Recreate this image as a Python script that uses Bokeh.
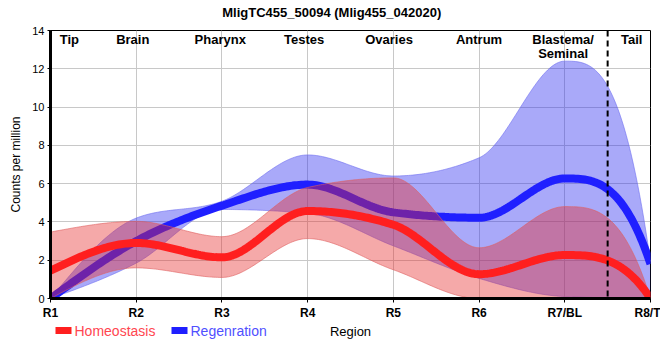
import numpy as np
from bokeh.plotting import figure
from bokeh.layouts import column
from bokeh.models import Range1d, FixedTicker, Label, Span, LinearAxis
from bokeh.embed import file_html
from bokeh.resources import INLINE

# ---------------- data ----------------
regions = ["R1", "R2", "R3", "R4", "R5", "R6", "R7/BL", "R8/T"]
region_pos = [1, 2, 3, 4, 5, 6, 7, 8]
tissues = ["Tip", "Brain", "Pharynx", "Testes", "Ovaries", "Antrum", "Blastema/", "Seminal", "Tail"]
y_ticks = [0, 2, 4, 6, 8, 10, 12, 14]
series_names = ["Homeostasis", "Regenration"]
title_text = "MligTC455_50094 (Mlig455_042020)"

homeo_mean = [1.45, 2.90, 2.15, 4.57, 3.85, 1.27, 2.27, 0.00]
homeo_upper = [3.47, 4.03, 3.23, 5.80, 6.30, 2.65, 4.80, 0.00]
homeo_lower = [0.00, 1.60, 1.10, 3.13, 1.50, 0.00, 0.00, 0.00]

regen_mean = [0.00, 3.00, 4.85, 5.95, 4.50, 4.22, 6.27, 1.80]
regen_upper = [0.00, 4.20, 5.08, 7.50, 6.40, 7.35, 12.40, 1.90]
regen_lower = [0.00, 1.85, 4.65, 4.45, 2.75, 1.05, 0.10, 0.00]

boundary = 7.5  # dashed tail boundary

FONT = "Liberation Sans"


def monotone_curve(xs, ys, samples=40):
    """Smooth monotone cubic rendering through the data points."""
    x = np.asarray(xs, float)
    y = np.asarray(ys, float)
    h = np.diff(x)
    s = np.diff(y) / h
    n = len(x)
    t = np.zeros(n)
    for i in range(1, n - 1):
        s0, s1 = s[i - 1], s[i]
        p = (s0 * h[i] + s1 * h[i - 1]) / (h[i - 1] + h[i])
        sg = (1 if s0 >= 0 else -1) + (1 if s1 >= 0 else -1)
        t[i] = sg * min(abs(s0), abs(s1), 0.5 * abs(p))
    t[0] = (3 * s[0] - t[1]) / 2
    te = 3 * s[-1] - t[-2]
    t[-1] = te if te * s[-1] > 0 else 0.0
    xo, yo = [], []
    for i in range(n - 1):
        u = np.linspace(0, 1, samples, endpoint=(i == n - 2))
        h00 = 2 * u**3 - 3 * u**2 + 1
        h10 = u**3 - 2 * u**2 + u
        h01 = -2 * u**3 + 3 * u**2
        h11 = u**3 - u**2
        xo.append(x[i] + u * h[i])
        yo.append(h00 * y[i] + h10 * h[i] * t[i] + h01 * y[i + 1] + h11 * h[i] * t[i + 1])
    return np.concatenate(xo), np.concatenate(yo)


W = 660
p = figure(width=W, height=322, x_range=Range1d(1, 8), y_range=Range1d(0, 14),
           output_backend="svg", toolbar_location=None, title=None,
           min_border_left=50, min_border_right=10, min_border_top=30, min_border_bottom=23)
p.outline_line_color = "black"
p.outline_line_width = 1
p.background_fill_color = "white"
p.border_fill_color = "white"

# grid
p.xgrid.ticker = FixedTicker(ticks=region_pos)
p.ygrid.ticker = FixedTicker(ticks=y_ticks)
for g in (p.xgrid, p.ygrid):
    g.grid_line_color = "#c8c8c8"
    g.grid_line_width = 1

# axes
xax = p.xaxis[0]
yax = p.yaxis[0]
xax.ticker = FixedTicker(ticks=region_pos)
xax.major_label_overrides = {pos: name for pos, name in zip(region_pos, regions)}
yax.ticker = FixedTicker(ticks=y_ticks)
for ax in (xax, yax):
    ax.axis_line_width = 3
    ax.axis_line_color = "black"
    ax.major_tick_in = 0
    ax.minor_tick_line_color = None
    ax.major_tick_line_color = "black"
xax.major_tick_out = 4
yax.major_tick_out = 3
xax.major_label_standoff = 3
yax.major_label_standoff = 3
xax.major_label_text_font = FONT
xax.major_label_text_font_size = "12px"
xax.major_label_text_font_style = "bold"
xax.major_label_text_color = "black"
yax.major_label_text_font = FONT
yax.major_label_text_font_size = "11px"
yax.major_label_text_color = "black"
yax.axis_label = "Counts per million"
yax.axis_label_text_font = FONT
yax.axis_label_text_font_size = "12px"
yax.axis_label_text_font_style = "normal"
yax.axis_label_text_color = "black"
yax.axis_label_standoff = 6

# chart title (drawn as the single label of a line-less top axis)
title_x = 4.28125
top_ax = LinearAxis(ticker=FixedTicker(ticks=[title_x]),
                    major_label_overrides={title_x: title_text},
                    axis_line_color=None, major_tick_line_color=None,
                    minor_tick_line_color=None, major_tick_in=0, major_tick_out=0,
                    major_label_standoff=11, major_label_text_font=FONT,
                    major_label_text_font_size="13px", major_label_text_font_style="bold",
                    major_label_text_color="black")
p.add_layout(top_ax, "above")

RED = "#ff1f1f"
BLUE = "#1f1fff"
RED_FILL = "#e62828"
BLUE_FILL = "#2828f0"

# regeneration band + line
bx, bu = monotone_curve(region_pos, regen_upper)
_, bl = monotone_curve(region_pos, regen_lower)
_, bm = monotone_curve(region_pos, regen_mean)
p.varea(x=bx, y1=bl, y2=bu, fill_color=BLUE_FILL, fill_alpha=0.4)
p.line(bx, bu, line_color="#6f6ff0", line_width=1, line_alpha=0.6)
p.line(bx, bl, line_color="#6f6ff0", line_width=1, line_alpha=0.6)
p.line(bx, bm, line_color=BLUE, line_width=8)

# homeostasis band + line
rx, ru = monotone_curve(region_pos, homeo_upper)
_, rl = monotone_curve(region_pos, homeo_lower)
_, rm = monotone_curve(region_pos, homeo_mean)
p.varea(x=rx, y1=rl, y2=ru, fill_color=RED_FILL, fill_alpha=0.4)
p.line(rx, ru, line_color="#e06060", line_width=1, line_alpha=0.6)
p.line(rx, rl, line_color="#e06060", line_width=1, line_alpha=0.6)
p.line(rx, rm, line_color=RED, line_width=8)

# dashed boundary
p.add_layout(Span(location=boundary, dimension="height", line_color="black",
                  line_width=2, line_dash="6 4"))

# tissue labels at the top
label_x = [1.22, 1.96, 2.98, 3.96, 4.95, 6.0, 6.98, 6.98, 7.78]
label_y = [259.5, 259.5, 259.5, 259.5, 259.5, 259.5, 259.5, 245.0, 259.5]
for name, lx, ly in zip(tissues, label_x, label_y):
    p.add_layout(Label(x=lx, y=ly, x_units="data", y_units="screen", text=name,
                       text_align="center", text_baseline="middle", text_font=FONT,
                       text_font_size="13px", text_font_style="bold", text_color="black"))

# ---------------- legend row (pixel layout; frame aligned with main plot) ----------------
q = figure(width=W, height=38, x_range=Range1d(50, 650), y_range=Range1d(38, 0),
           output_backend="svg", toolbar_location=None,
           x_axis_location=None, y_axis_location=None,
           min_border_left=0, min_border_right=0, min_border_top=0, min_border_bottom=0)
q.grid.visible = False
q.outline_line_color = None
q.background_fill_color = "white"
q.border_fill_color = "white"

key_left = [55, 171]
key_width = 16
key_mid = 8
key_half_h = 3.5
key_colors = [RED, BLUE]
text_colors = ["#ff4650", "#5050ff"]
q.quad(left=key_left, right=[k + key_width for k in key_left],
       top=[key_mid - key_half_h] * 2, bottom=[key_mid + key_half_h] * 2,
       fill_color=key_colors, line_color=None)
for k, name, col in zip(key_left, series_names, text_colors):
    q.add_layout(Label(x=k + key_width + 3, y=key_mid + 0.5, text=name, text_align="left",
                       text_baseline="middle", text_font=FONT, text_font_size="14px",
                       text_color=col))

q.add_layout(Label(x=350, y=key_mid + 1, text="Region", text_align="center",
                   text_baseline="middle", text_font=FONT, text_font_size="13px",
                   text_color="black"))

layout = column(p, q, spacing=0)
open("out.html", "w").write(file_html(layout, INLINE))
